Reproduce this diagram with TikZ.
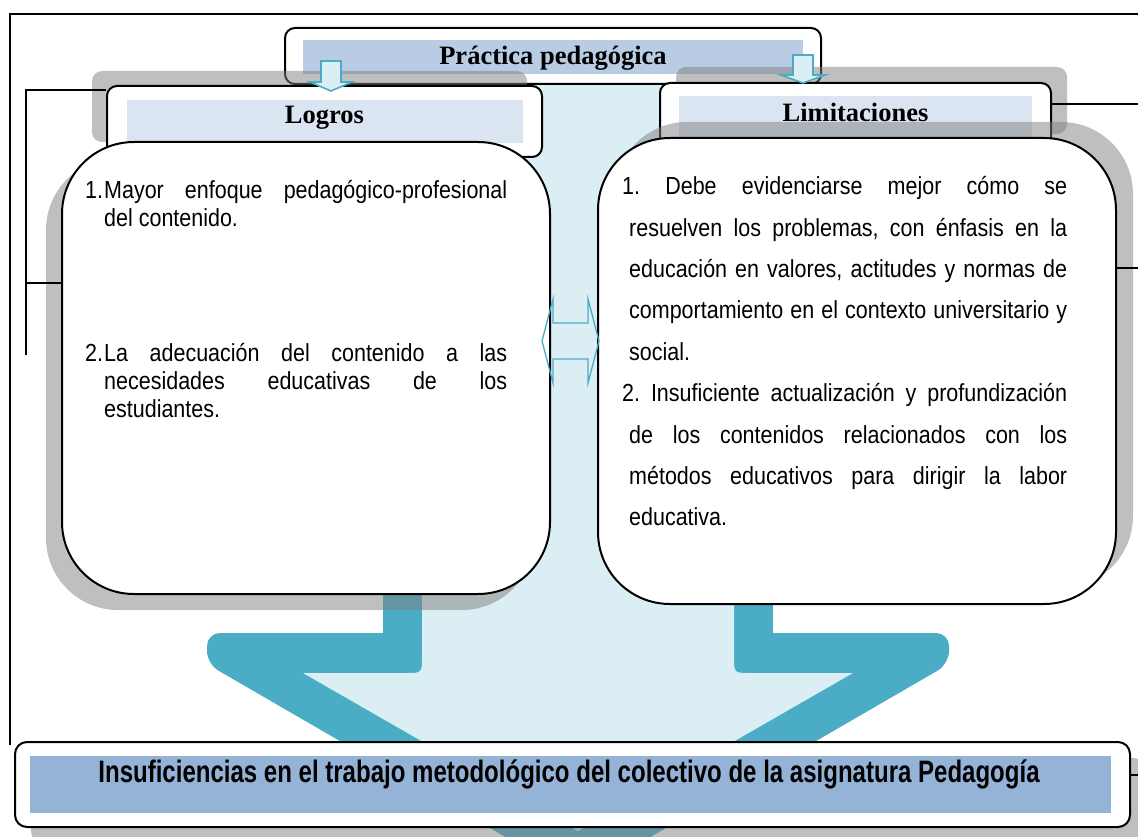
\documentclass[tikz,border=0pt]{standalone}
\usepackage{fontspec}
\usepackage{graphicx}
\setmainfont{Liberation Serif}
\newfontfamily\arialfont{Liberation Sans}
\newfontfamily\narrowfont[FakeStretch=0.87]{Liberation Sans}
\usetikzlibrary{shadows}
\definecolor{paleblue}{HTML}{DAEEF3}
\definecolor{arrowteal}{HTML}{4BACC6}
\definecolor{bandblue}{HTML}{B8CCE4}
\definecolor{headblue}{HTML}{DBE5F1}
\definecolor{footblue}{HTML}{95B3D7}
\newcommand{\nohyph}{\hyphenpenalty=10000 \exhyphenpenalty=10000 \tolerance=10000 \frenchspacing}
\tikzset{
	boxline/.style={draw=black, line width=2pt, fill=white, inner sep=0pt},
	smallbox/.style={boxline, rounded corners=10pt},
	bigbox/.style={boxline, rounded corners=72pt},
	shadowto/.style 2 args={drop shadow={shadow xshift=#1pt, shadow yshift=#2pt, fill=black!50, opacity=0.5}},
	bracket/.style={line width=1.5pt},
	smallarrow/.style={fill=paleblue, draw=arrowteal, line width=1.6pt},
	headtext/.style={anchor=base, font=\bfseries\fontsize{26.5}{26.5}\selectfont},
	bodytext/.style={anchor=north west, inner sep=0pt, align=justify, font=\narrowfont\fontsize{24.7}{#1}\selectfont\nohyph},
}

\begin{document}
\begin{tikzpicture}[x=1pt, y=-1pt]
	%%%%% START %%%%%
	\useasboundingbox (0,0) rectangle (1138,837);
	\clip (0,0) rectangle (1138,837);
	\fill[white] (0,0) rectangle (1138,837);
	
	% big arrow behind everything
	\fill[arrowteal] (383,100) rectangle (773,673);
	\fill[arrowteal, rounded corners=13pt] (207,633) -- (949,633) -- (949,664) -- (578,879) -- (207,664) -- cycle;
	\fill[paleblue] (422,80) -- (422,657) .. controls (422,673) .. (406,673) -- (303,673) -- (578,831) -- (853,673) -- (750,673) .. controls (734,673) .. (734,657) -- (734,80) -- cycle;
	
	\node[smallbox, minimum width=536pt, minimum height=56pt] (practica) at (553,56) {};
	\fill[bandblue] (303,40) rectangle (803,74);
	\node[headtext] (practicatxt) at (553,65) {Práctica pedagógica};
	
	\node[smallbox, shadowto={-15}{15}, minimum width=435pt, minimum height=71pt] (logros) at (324.5,121.5) {};
	\fill[headblue] (127,100) rectangle (523,143);
	\node[headtext] (logrostxt) at (324.5,124) {Logros};
	
	\node[smallbox, shadowto={16}{16}, minimum width=391pt, minimum height=67pt] (limit) at (855.5,116.5) {};
	\fill[headblue] (679,96) rectangle (1032,145);
	\node[headtext] (limittxt) at (855.5,121.7) {Limitaciones};
	
	\draw[smallarrow] (321,61) -- (341,61) -- (341,82) -- (352,82) -- (331,91) -- (310,82) -- (321,82) -- cycle;
	\draw[smallarrow] (793,55) -- (813,55) -- (813,75) -- (825,75) -- (803,83) -- (781,75) -- (793,75) -- cycle;
	
	\node[bigbox, shadowto={-16}{-16}, minimum width=488pt, minimum height=452pt] (lcont) at (306,368) {};
	\node[bodytext=28, text width=403pt] (logro1) at (104,179) {\noindent\strut\hskip-19pt\makebox[19pt][l]{1.}Mayor enfoque pedagógico-profesional\linebreak del contenido.};
	\node[bodytext=28, text width=403pt] (logro2) at (104,342) {\noindent\strut\hskip-19pt\makebox[19pt][l]{2.}La adecuación del contenido a las\linebreak necesidades educativas de los\linebreak estudiantes.};
	
	\node[bigbox, shadowto={17}{16}, minimum width=518pt, minimum height=466pt] (rcont) at (857,371) {};
	\node[bodytext=41.4, text width=438pt] (limit1) at (629,165.6) {\noindent\strut\hskip-7pt 1. Debe evidenciarse mejor cómo se\linebreak resuelven los problemas, con énfasis en la\linebreak educación en valores, actitudes y normas de\linebreak comportamiento en el contexto universitario y\linebreak social.\par\noindent\hskip-7pt 2. Insuficiente actualización y profundización\linebreak de los contenidos relacionados con los\linebreak métodos educativos para dirigir la labor\linebreak educativa.};
	
	% arrow between the two boxes
	\draw[arrowteal, line width=1.3pt] (542,341) -- (553,299) -- (553,323) -- (588,323) -- (588,299) -- (599,341) -- (588,383) -- (588,359) -- (553,359) -- (553,383) -- cycle;
	
	\node[smallbox, rounded corners=12pt, shadowto={16}{-16}, minimum width=1115pt, minimum height=85pt] (insuf) at (572.5,784.5) {};
	\fill[footblue] (30,756) rectangle (1111,813);
	\node[anchor=base, font=\arialfont\bfseries\fontsize{31}{31}\selectfont] (insuftxt) at (569,782) {\scalebox{0.775}[1]{Insuficiencias en el trabajo metodológico del colectivo de la asignatura Pedagogía}};
	
	% frame and brackets
	\draw[bracket] (10,745) -- (10,14) -- (1145,14);
	\coordinate (lb1) at (26,90);
	\coordinate (lb2) at (26,283);
	\coordinate (lb3) at (26,355);
	\draw[bracket] (lb3) -- (lb1) -- (logros.west |- lb1);
	\draw[bracket] (lb2) -- (lcont.west |- lb2);
	\coordinate (rb1) at (1145,104);
	\coordinate (rb2) at (1145,268);
	\coordinate (rb3) at (1145,775);
	\draw[bracket] (limit.east |- rb1) -- (rb1);
	\draw[bracket] (rcont.east |- rb2) -- (rb2);
	\draw[bracket] (insuf.east |- rb3) -- (rb3);
	%%%%% END %%%%%
\end{tikzpicture}
\end{document}
